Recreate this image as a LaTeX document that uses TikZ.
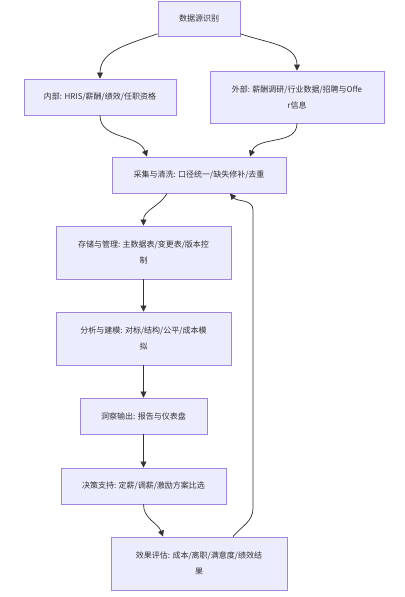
\documentclass[tikz,border=0pt]{standalone}
\usepackage{fontspec}
\usepackage{tikz}
\usetikzlibrary{positioning,arrows.meta,calc}
\newfontfamily\cjk{Noto Sans CJK SC}
\definecolor{stagefill}{HTML}{ECECFF}
\definecolor{stageline}{HTML}{9370DB}
\definecolor{ink}{HTML}{333333}

\begin{document}
\begin{tikzpicture}[x=0.75pt,y=0.75pt,>={Triangle[length=4.5pt,width=4.5pt]},
  stage/.style={draw=stageline!85,fill=stagefill,line width=0.65pt,inner sep=0pt,align=center,
    text=ink,font=\cjk\fontsize{6}{12}\selectfont},
  flow/.style={->,draw=ink,line width=0.55pt}]
  \useasboundingbox (0,0) rectangle (404,-597);
  % sources
  \node[stage,minimum width=61.5pt,minimum height=26.25pt] (src) at (199,-18.5) {数据源识别};
  \node[stage,minimum width=114pt,minimum height=27pt] (inner) at (100,-97) {内部: HRIS/薪酬/绩效/任职资格};
  \node[stage,minimum width=130.5pt,minimum height=39pt] (outer) at (297,-97) {外部: 薪酬调研/行业数据/招聘与Offe\\r信息};
  % pipeline
  \node[stage,minimum width=130.5pt,minimum height=27pt] (clean) at (199,-175) {采集与清洗: 口径统一/缺失修补/去重};
  \node[stage,minimum width=131.25pt,minimum height=39.75pt] (store) at (143.5,-252.5) {存储与管理: 主数据表/变更表/版本控\\制};
  \node[stage,minimum width=131.25pt,minimum height=39.75pt] (model) at (143.5,-338.5) {分析与建模: 对标/结构/公平/成本模\\拟};
  \node[stage,minimum width=95.25pt,minimum height=27pt] (insight) at (143.5,-416) {洞察输出: 报告与仪表盘};
  \node[stage,minimum width=123.75pt,minimum height=27pt] (decide) at (143.5,-486) {决策支持: 定薪/调薪/激励方案比选};
  \node[stage,minimum width=132pt,minimum height=39.75pt] (review) at (199,-563.5) {效果评估: 成本/离职/满意度/绩效结\\果};
  % feedback route
  \coordinate (loopbot) at (253,-508);
  \coordinate (looptop) at (253,-210);
  % edges
  \draw[flow] ([yshift=2pt]src.south west) to[out=200,in=90] (inner.north);
  \draw[flow] ([yshift=2pt]src.south east) to[out=-20,in=90] (outer.north);
  \draw[flow] (inner.south) to[out=-90,in=110] ($(clean.north)+(-52,0)$);
  \draw[flow] (outer.south) to[out=-90,in=70] ($(clean.north)+(51,0)$);
  \draw[flow] ($(clean.south)+(-32,0)$) to[out=-120,in=90] (store.north);
  \draw[flow] (store) -- (model);
  \draw[flow] (model) -- (insight);
  \draw[flow] (insight) -- (decide);
  \draw[flow] (decide.south) to[out=-90,in=110] ($(review.north)+(-36,0)$);
  \draw[flow] ($(review.north)+(34,0)$) to[out=50,in=-90] (loopbot) -- (looptop) to[out=90,in=-50] ($(clean.south)+(31,0)$);
\end{tikzpicture}
\end{document}
